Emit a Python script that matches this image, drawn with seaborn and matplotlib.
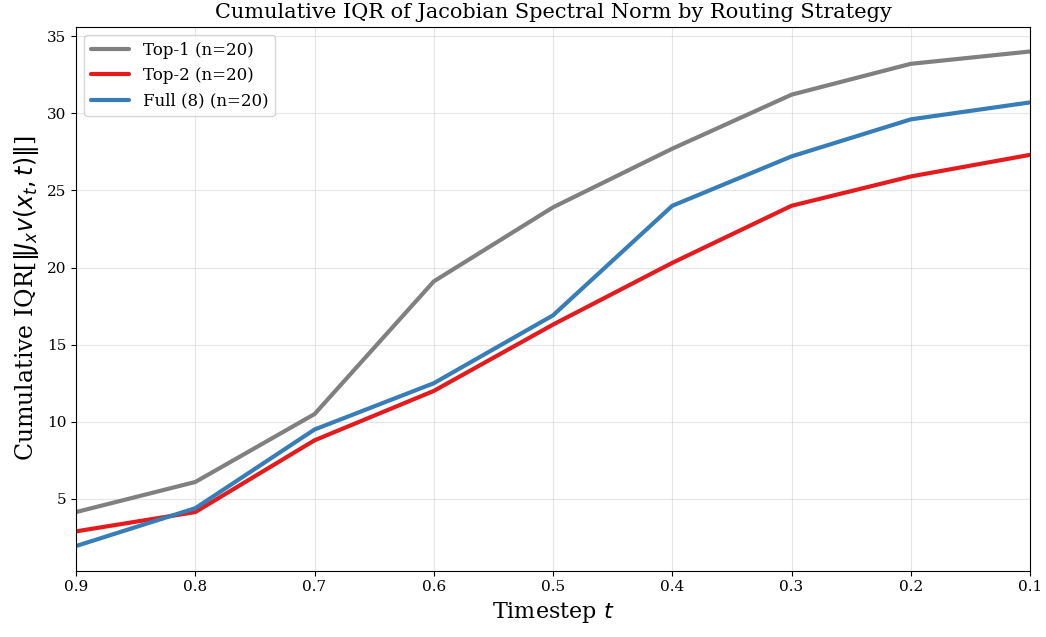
import numpy as np
import pandas as pd
import matplotlib
matplotlib.use("Agg")
import matplotlib.pyplot as plt
import seaborn as sns

# Data
timesteps = [0.9, 0.8, 0.7, 0.6, 0.5, 0.4, 0.3, 0.2, 0.1]
top1 = [4.15, 6.1, 10.5, 19.1, 23.9, 27.7, 31.2, 33.2, 34.0]
top2 = [2.9, 4.15, 8.8, 12.0, 16.3, 20.3, 24.0, 25.9, 27.3]
full8 = [1.95, 4.4, 9.5, 12.5, 16.9, 24.0, 27.2, 29.6, 30.7]
labels = ["Top-1 (n=20)", "Top-2 (n=20)", "Full (8) (n=20)"]
colors = ["#808080", "#e41a1c", "#377eb8"]

df = pd.DataFrame({
    "t": timesteps * 3,
    "iqr": top1 + top2 + full8,
    "strategy": np.repeat(labels, len(timesteps)),
})

sns.set_style("ticks", {
    "axes.edgecolor": "black",
    "xtick.color": "black",
    "ytick.color": "black",
    "text.color": "black",
    "axes.labelcolor": "black",
})
plt.rcParams["font.family"] = ["DejaVu Serif"]

fig, ax = plt.subplots(figsize=(10.46, 6.37), dpi=100)
fig.subplots_adjust(left=0.0727, right=0.9847, top=0.958, bottom=0.104)

sns.lineplot(
    data=df,
    x="t",
    y="iqr",
    hue="strategy",
    hue_order=labels,
    palette=colors,
    linewidth=3,
    ax=ax,
)

ax.set_xlim(0.9, 0.1)
ax.set_xticks(timesteps)
ax.grid(True, color="#cccccc", alpha=0.5, linewidth=0.8)
ax.tick_params(labelsize=11)

ax.set_title("Cumulative IQR of Jacobian Spectral Norm by Routing Strategy",
             fontsize=15)
ax.set_xlabel("Timestep $t$", fontsize=16)
ax.set_ylabel(r"Cumulative IQR[$\|J_x v(x_t, t)\|$]", fontsize=17)

ax.legend(loc="upper left", fontsize=12, title=None, framealpha=0.8,
          handlelength=2.3)

plt.savefig("out.png", dpi=100)
